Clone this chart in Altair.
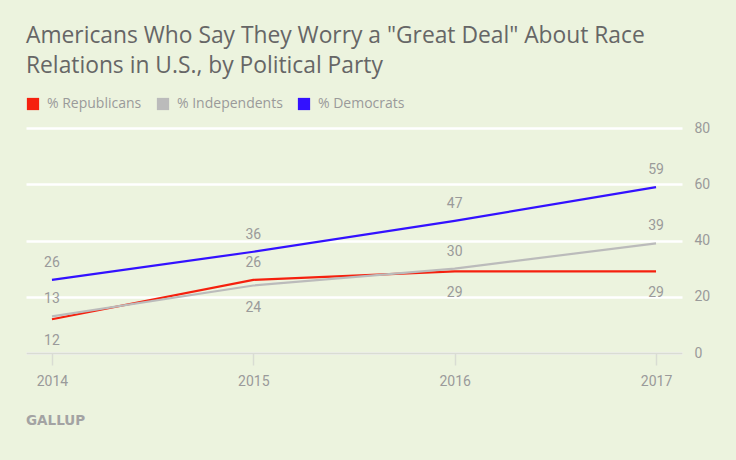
import altair as alt
import pandas as pd

# ---- data ----
years = ["2014", "2015", "2016", "2017"]
republicans = [12, 26, 29, 29]
independents = [13, 24, 30, 39]
democrats = [26, 36, 47, 59]
# where each value label sits relative to its point
rep_label_side = ["below", "above", "below", "below"]
ind_label_side = ["above", "below", "above", "above"]
dem_label_side = ["above", "above", "above", "above"]

series_names = ["% Republicans", "% Independents", "% Democrats"]
series_colors = ["#f5200e", "#bbbbbb", "#3311ff"]

title_lines = [
    'Americans Who Say They Worry a "Great Deal" About Race',
    "Relations in U.S., by Political Party",
]
source_text = ["GALLUP"]

rows = []
for name, vals, sides in zip(series_names,
                             [republicans, independents, democrats],
                             [rep_label_side, ind_label_side, dem_label_side]):
    for yr, v, s in zip(years, vals, sides):
        rows.append({"year": yr, "series": name, "value": v, "side": s})
df = pd.DataFrame(rows)

FONT = "Roboto"
FONT_WIDE = "Open Sans"
GRAY_TXT = "#9a9a9a"
BG = "#ecf3de"

x_enc = alt.X(
    "year:O",
    sort=years,
    scale=alt.Scale(type="point", padding=0.129),
    axis=alt.Axis(
        title=None, labelAngle=0, grid=False,
        domain=True, domainColor="#d9dcd3", domainWidth=2,
        ticks=True, tickColor="#d9dcd3", tickWidth=1.5, tickSize=12,
        labelColor=GRAY_TXT, labelFont=FONT, labelFontSize=14, labelPadding=9,
        zindex=1,
    ),
)
y_enc = alt.Y(
    "value:Q",
    scale=alt.Scale(domain=[0, 80], nice=False),
    axis=alt.Axis(
        title=None, orient="right", values=[0, 20, 40, 60, 80],
        grid=True, gridColor="white", gridWidth=2.5,
        domain=False, ticks=False,
        labelColor=GRAY_TXT, labelFont=FONT, labelFontSize=14, labelPadding=12,
    ),
)
color_scale = alt.Scale(domain=series_names, range=series_colors)

base = alt.Chart(df)

lines = base.mark_line(strokeWidth=2.2).encode(
    x=x_enc,
    y=y_enc,
    color=alt.Color("series:N", scale=color_scale, legend=None),
)

legend_pts = base.mark_square(filled=True, opacity=0, size=144).encode(
    x=alt.X("year:O", sort=years),
    y=alt.Y("value:Q"),
    color=alt.Color(
        "series:N", scale=color_scale,
        legend=alt.Legend(
            orient="none", legendX=0, legendY=-31, direction="horizontal",
            title=None, symbolType="square", symbolSize=150, symbolOpacity=1,
            symbolStrokeWidth=0, labelFont=FONT_WIDE, labelFontSize=14,
            labelColor=GRAY_TXT, labelOffset=7, columnPadding=14,
        ),
    ),
)

labels_above = base.transform_filter(alt.datum.side == "above").mark_text(
    font=FONT, fontSize=14, color=GRAY_TXT, dy=-17, baseline="middle"
).encode(x=alt.X("year:O", sort=years), y="value:Q", text="value:Q")

labels_below = base.transform_filter(alt.datum.side == "below").mark_text(
    font=FONT, fontSize=14, color=GRAY_TXT, dy=22, baseline="middle"
).encode(x=alt.X("year:O", sort=years), y="value:Q", text="value:Q")

source = alt.Chart(pd.DataFrame({"t": source_text})).mark_text(
    font="DejaVu Sans", fontSize=13.5, color="#a3a3a3", align="left",
    baseline="middle", fontWeight="bold",
).encode(text="t:N", x=alt.value(0), y=alt.value(293))

chart = alt.layer(lines, legend_pts, labels_above, labels_below, source).resolve_legend(
    color="independent"
).properties(
    width=656,
    height=225,
    padding={"left": 26, "top": 128, "right": 54, "bottom": 107},
    autosize=alt.AutoSizeParams(type="none"),
    title=alt.TitleParams(
        text=title_lines, anchor="start", font=FONT_WIDE, fontSize=22.8,
        fontWeight="normal", color="#666666", lineHeight=30, offset=19,
    ),
).configure(
    background=BG,
).configure_view(stroke=None)

chart.save("out.html", embed_options={"renderer": "svg", "actions": False})
